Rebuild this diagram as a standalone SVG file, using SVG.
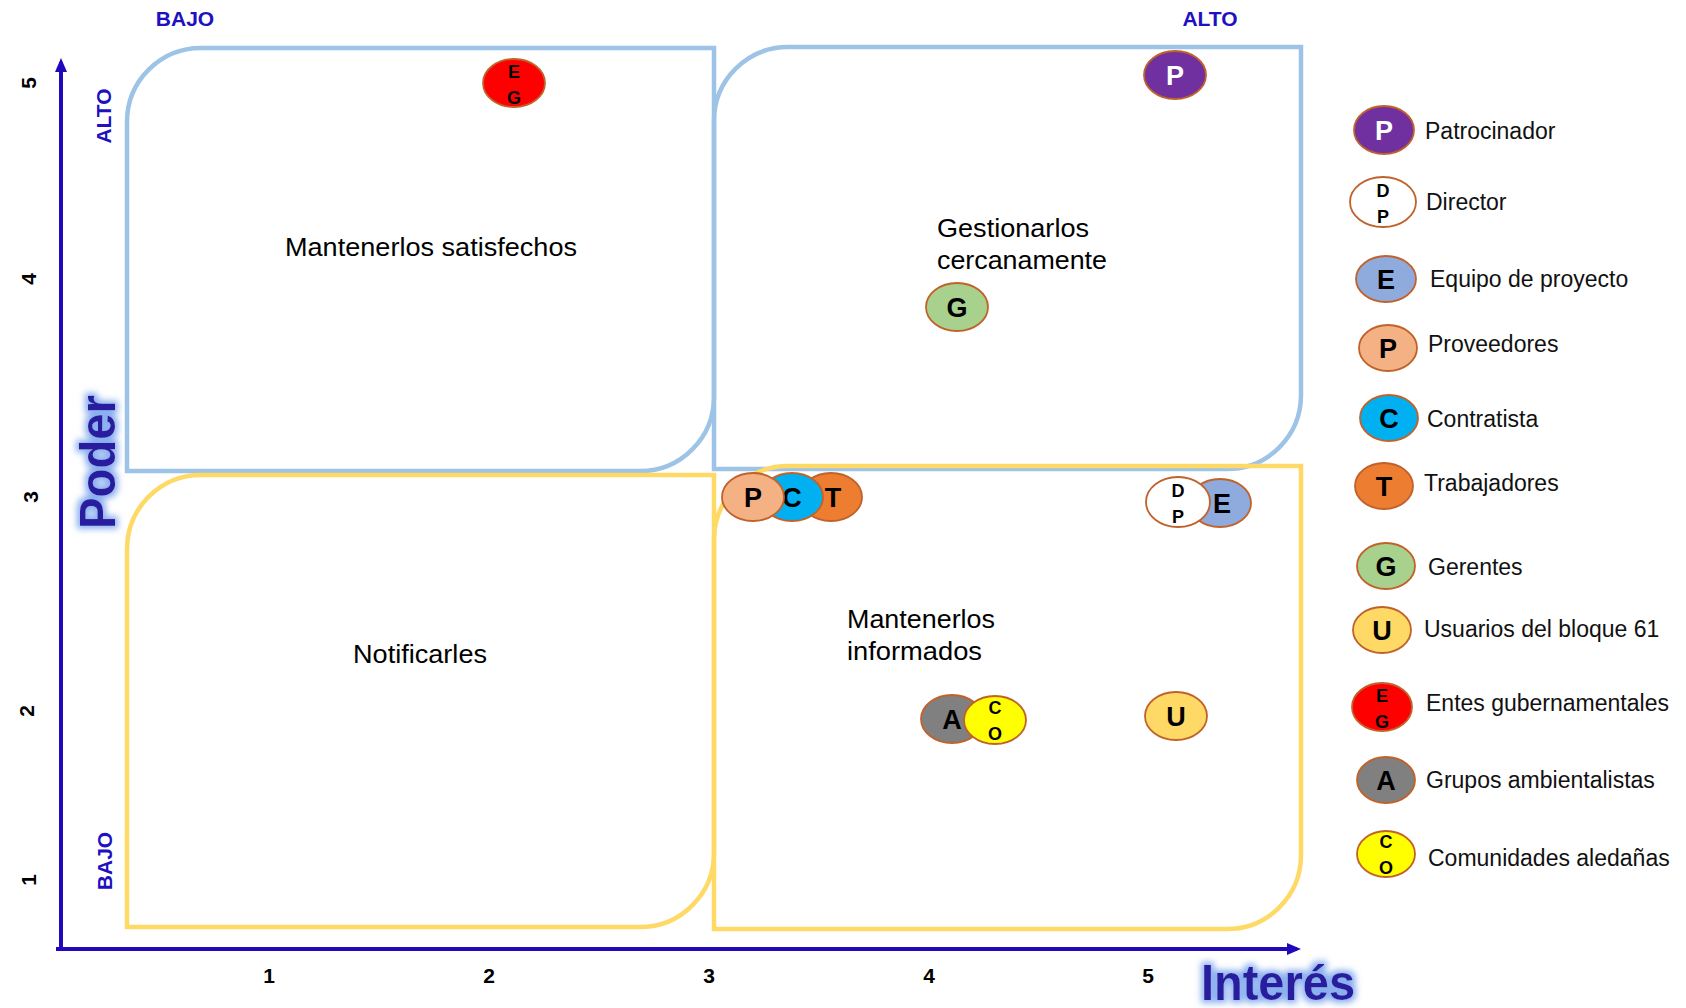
<svg xmlns="http://www.w3.org/2000/svg" width="1686" height="1008" viewBox="0 0 1686 1008">
<defs>
<style>
.q{fill:none;stroke-width:4.5}
.qb{stroke:#9DC3E6}
.qy{stroke:#FFD966}
.ax{stroke:#2108BB;stroke-width:4;fill:none}
.tick{font-family:"Liberation Sans",Arial,sans-serif;font-weight:bold;font-size:21px;fill:#000}
.lvl{font-family:"Liberation Sans",Arial,sans-serif;font-weight:bold;font-size:21px;fill:#2010C0}
.qt{font-family:"Liberation Sans",Arial,sans-serif;font-size:25px;fill:#000}
.lg{font-family:"Liberation Sans",Arial,sans-serif;font-size:23px;fill:#111}
.big{font-family:"Liberation Sans",Arial,sans-serif;font-weight:bold;fill:#2A1A9E}
.st{stroke:#C0622A;stroke-width:1.8}
.L{font-family:"Liberation Sans",Arial,sans-serif;font-weight:bold;font-size:27px;fill:#000;text-anchor:middle}
.s{font-family:"Liberation Sans",Arial,sans-serif;font-weight:bold;font-size:18px;fill:#000;text-anchor:middle}
</style>
<marker id="ah2" markerWidth="14" markerHeight="14" refX="10" refY="7" orient="auto" markerUnits="userSpaceOnUse" viewBox="0 0 14 14">
<path d="M0,1 L14,7 L0,13 Z" fill="#2108BB"/>
</marker>
<filter id="glow" x="-20%" y="-30%" width="140%" height="160%">
<feMorphology in="SourceAlpha" operator="dilate" radius="3" result="d"/>
<feGaussianBlur in="d" stdDeviation="3" result="b"/>
<feFlood flood-color="#7FA6EE" flood-opacity="0.9"/>
<feComposite in2="b" operator="in" result="g"/>
<feMerge><feMergeNode in="g"/><feMergeNode in="SourceGraphic"/></feMerge>
</filter>
</defs>
<rect width="1686" height="1008" fill="#fff"/>

<g id="quadrants">
<g id="q-satisfechos">
<path class="q qb" d="M127,471 L127,122 A74,74 0 0 1 201,48 L714,48 L714,397 A74,74 0 0 1 640,471 Z"/>
<text class="qt" x="431" y="256" text-anchor="middle" textLength="292" lengthAdjust="spacingAndGlyphs">Mantenerlos satisfechos</text>
</g>
<g id="q-gestionarlos">
<path class="q qb" d="M714,469 L714,121 A74,74 0 0 1 788,47 L1301,47 L1301,395 A74,74 0 0 1 1227,469 Z"/>
<text class="qt" x="937" y="237" textLength="152" lengthAdjust="spacingAndGlyphs">Gestionarlos</text>
<text class="qt" x="937" y="269" textLength="170" lengthAdjust="spacingAndGlyphs">cercanamente</text>
</g>
<g id="q-notificarles">
<path class="q qy" d="M127,927 L127,549 A74,74 0 0 1 201,475 L714,475 L714,853 A74,74 0 0 1 640,927 Z"/>
<text class="qt" x="420" y="663" text-anchor="middle" textLength="134" lengthAdjust="spacingAndGlyphs">Notificarles</text>
</g>
<g id="q-informados">
<path class="q qy" d="M714,929 L714,540 A74,74 0 0 1 788,466 L1301,466 L1301,855 A74,74 0 0 1 1227,929 Z"/>
<text class="qt" x="847" y="628" textLength="148" lengthAdjust="spacingAndGlyphs">Mantenerlos</text>
<text class="qt" x="847" y="660" textLength="135" lengthAdjust="spacingAndGlyphs">informados</text>
</g>
</g>

<g id="connectors">
<line class="ax" x1="61" y1="951" x2="61" y2="62" marker-end="url(#ah2)"/>
<line class="ax" x1="56" y1="949" x2="1297" y2="949" marker-end="url(#ah2)"/>
</g>

<g id="axis-labels">
<text class="tick" x="269" y="983" text-anchor="middle">1</text>
<text class="tick" x="489" y="983" text-anchor="middle">2</text>
<text class="tick" x="709" y="983" text-anchor="middle">3</text>
<text class="tick" x="929" y="983" text-anchor="middle">4</text>
<text class="tick" x="1148" y="983" text-anchor="middle">5</text>
<text class="tick" transform="translate(36,83) rotate(-90)" text-anchor="middle">5</text>
<text class="tick" transform="translate(36,279) rotate(-90)" text-anchor="middle">4</text>
<text class="tick" transform="translate(38,497) rotate(-90)" text-anchor="middle">3</text>
<text class="tick" transform="translate(34,711) rotate(-90)" text-anchor="middle">2</text>
<text class="tick" transform="translate(36,880) rotate(-90)" text-anchor="middle">1</text>
<text class="lvl" x="185" y="26" text-anchor="middle">BAJO</text>
<text class="lvl" x="1210" y="26" text-anchor="middle">ALTO</text>
<text class="lvl" transform="translate(111,116) rotate(-90)" text-anchor="middle">ALTO</text>
<text class="lvl" transform="translate(112,861) rotate(-90)" text-anchor="middle">BAJO</text>
<text class="big" filter="url(#glow)" font-size="50" transform="translate(115,462) rotate(-90)" text-anchor="middle" textLength="134" lengthAdjust="spacingAndGlyphs">Poder</text>
<text class="big" filter="url(#glow)" font-size="50" x="1278" y="1000" text-anchor="middle" textLength="154" lengthAdjust="spacingAndGlyphs">Interés</text>
</g>

<g id="node-EG">
<ellipse class="st" cx="514" cy="83" rx="31" ry="24" fill="#FF0000"/>
<text class="s" x="514" y="78">E</text><text class="s" x="514" y="104">G</text>
</g>
<g id="node-P-patrocinador">
<ellipse class="st" cx="1175" cy="75" rx="31" ry="24" fill="#7030A0"/>
<text class="L" x="1175" y="85" style="fill:#fff">P</text>
</g>
<g id="node-G">
<ellipse class="st" cx="957" cy="307" rx="31" ry="24" fill="#A9D18E"/>
<text class="L" x="957" y="317">G</text>
</g>
<g id="node-T">
<ellipse class="st" cx="831" cy="497" rx="31" ry="24" fill="#ED7D31"/>
<text class="L" x="833" y="507">T</text>
</g>
<g id="node-C">
<ellipse class="st" cx="792" cy="497" rx="31" ry="24" fill="#00B0F0"/>
<text class="L" x="792" y="507">C</text>
</g>
<g id="node-P-proveedores">
<ellipse class="st" cx="753" cy="497" rx="31" ry="24" fill="#F4B183"/>
<text class="L" x="753" y="507">P</text>
</g>
<g id="node-E">
<ellipse class="st" cx="1220" cy="503" rx="31" ry="24" fill="#8FAADC"/>
<text class="L" x="1222" y="513">E</text>
</g>
<g id="node-DP">
<ellipse class="st" cx="1178" cy="502" rx="32" ry="25" fill="#fff"/>
<text class="s" x="1178" y="497">D</text><text class="s" x="1178" y="523">P</text>
</g>
<g id="node-A">
<ellipse class="st" cx="952" cy="719" rx="31" ry="24" fill="#808080"/>
<text class="L" x="952" y="729">A</text>
</g>
<g id="node-CO">
<ellipse class="st" cx="995" cy="720" rx="31" ry="24" fill="#FFFF00"/>
<text class="s" x="995" y="714">C</text><text class="s" x="995" y="740">O</text>
</g>
<g id="node-U">
<ellipse class="st" cx="1176" cy="716" rx="31" ry="24" fill="#FFD966"/>
<text class="L" x="1176" y="726">U</text>
</g>

<g id="legend">
<g id="lg-P"><ellipse class="st" cx="1384" cy="130" rx="30" ry="24" fill="#7030A0"/><text class="L" x="1384" y="140" style="fill:#fff">P</text><text class="lg" x="1425" y="139">Patrocinador</text></g>
<g id="lg-DP"><ellipse class="st" cx="1383" cy="202" rx="33" ry="25" fill="#fff"/><text class="s" x="1383" y="197">D</text><text class="s" x="1383" y="223">P</text><text class="lg" x="1426" y="210">Director</text></g>
<g id="lg-E"><ellipse class="st" cx="1386" cy="279" rx="30" ry="23" fill="#8FAADC"/><text class="L" x="1386" y="289">E</text><text class="lg" x="1430" y="287">Equipo de proyecto</text></g>
<g id="lg-Pv"><ellipse class="st" cx="1388" cy="348" rx="29" ry="23" fill="#F4B183"/><text class="L" x="1388" y="358">P</text><text class="lg" x="1428" y="352">Proveedores</text></g>
<g id="lg-C"><ellipse class="st" cx="1389" cy="418" rx="29" ry="23" fill="#00B0F0"/><text class="L" x="1389" y="428">C</text><text class="lg" x="1427" y="427">Contratista</text></g>
<g id="lg-T"><ellipse class="st" cx="1384" cy="486" rx="29" ry="23" fill="#ED7D31"/><text class="L" x="1384" y="496">T</text><text class="lg" x="1424" y="491">Trabajadores</text></g>
<g id="lg-G"><ellipse class="st" cx="1386" cy="566" rx="29" ry="23" fill="#A9D18E"/><text class="L" x="1386" y="576">G</text><text class="lg" x="1428" y="575">Gerentes</text></g>
<g id="lg-U"><ellipse class="st" cx="1382" cy="630" rx="29" ry="23" fill="#FFD966"/><text class="L" x="1382" y="640">U</text><text class="lg" x="1424" y="637">Usuarios del bloque 61</text></g>
<g id="lg-EG"><ellipse class="st" cx="1382" cy="707" rx="30" ry="24" fill="#FF0000"/><text class="s" x="1382" y="702">E</text><text class="s" x="1382" y="728">G</text><text class="lg" x="1426" y="711">Entes gubernamentales</text></g>
<g id="lg-A"><ellipse class="st" cx="1386" cy="780" rx="29" ry="23" fill="#808080"/><text class="L" x="1386" y="790">A</text><text class="lg" x="1426" y="788">Grupos ambientalistas</text></g>
<g id="lg-CO"><ellipse class="st" cx="1386" cy="854" rx="29" ry="23" fill="#FFFF00"/><text class="s" x="1386" y="848">C</text><text class="s" x="1386" y="874">O</text><text class="lg" x="1428" y="866">Comunidades aledañas</text></g>
</g>
</svg>
